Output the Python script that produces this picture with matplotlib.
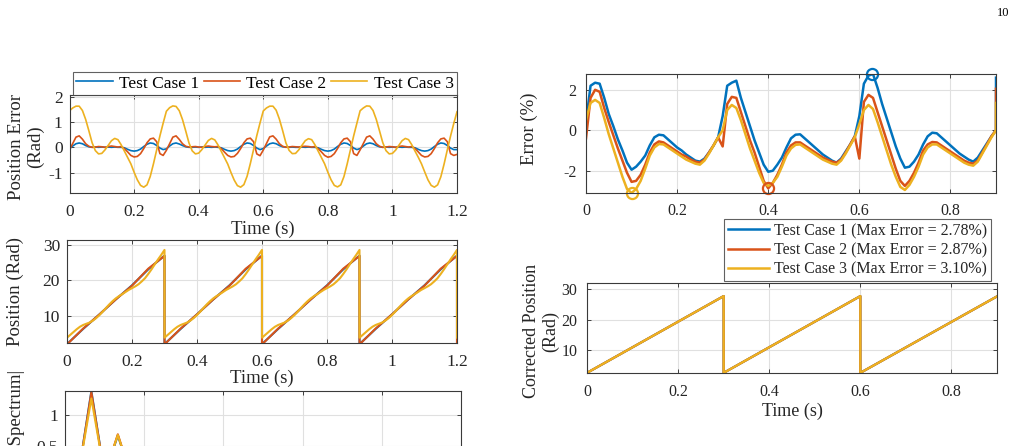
import matplotlib
matplotlib.use('Agg')
import matplotlib.pyplot as plt
import numpy as np

plt.rcParams['font.family'] = ['Liberation Serif', 'DejaVu Serif']
plt.rcParams['axes.unicode_minus'] = False

# ---------------- data ----------------
labels = ['Test Case 1', 'Test Case 2', 'Test Case 3']
labels_max = ['Test Case 1 (Max Error = 2.78%)',
              'Test Case 2 (Max Error = 2.87%)',
              'Test Case 3 (Max Error = 3.10%)']

# Position error (Rad), sampled every 0.01 s from 0 to 1.2 s
t_err = np.linspace(0, 1.2, 121)
err_case1 = [
    -0.05, 0.05, 0.14, 0.17, 0.14, 0.07, 0.02, 0.00, 0.01, 0.00, 0.01, 0.00, 0.01, 0.00, 0.01,
    0.00, 0.00, -0.02, -0.08, -0.13, -0.15, -0.13, -0.07, 0.03, 0.12, 0.17, 0.15, 0.07, -0.03, -0.09,
    -0.06, 0.05, 0.14, 0.17, 0.13, 0.07, 0.02, 0.00, 0.00, 0.01, 0.00, 0.01, 0.00, 0.01, 0.00,
    0.01, 0.00, -0.02, -0.08, -0.13, -0.15, -0.13, -0.07, 0.03, 0.12, 0.17, 0.15, 0.07, -0.03, -0.09,
    -0.05, 0.05, 0.14, 0.17, 0.14, 0.07, 0.02, 0.01, 0.00, 0.01, 0.00, 0.00, 0.01, 0.00, 0.01,
    0.00, 0.00, -0.02, -0.08, -0.13, -0.15, -0.13, -0.07, 0.03, 0.12, 0.17, 0.15, 0.07, -0.03, -0.09,
    -0.05, 0.05, 0.14, 0.17, 0.14, 0.07, 0.02, 0.00, 0.01, 0.00, 0.01, 0.00, 0.01, 0.00, 0.01,
    0.00, 0.00, -0.02, -0.08, -0.13, -0.15, -0.13, -0.07, 0.03, 0.12, 0.17, 0.15, 0.07, -0.03, -0.09,
    -0.09]
err_case2 = [
    -0.10, 0.15, 0.40, 0.45, 0.32, 0.14, 0.04, 0.00, 0.01, 0.03, 0.02, 0.00, 0.03, 0.05, 0.03,
    0.01, 0.03, -0.05, -0.18, -0.32, -0.38, -0.36, -0.25, -0.05, 0.18, 0.33, 0.36, 0.22, -0.25, -0.32,
    -0.12, 0.14, 0.40, 0.45, 0.31, 0.14, 0.04, 0.01, 0.02, 0.03, 0.01, 0.00, 0.03, 0.05, 0.03,
    0.02, 0.03, -0.05, -0.19, -0.32, -0.38, -0.36, -0.24, -0.05, 0.18, 0.33, 0.36, 0.22, -0.26, -0.33,
    -0.11, 0.15, 0.41, 0.45, 0.32, 0.14, 0.04, 0.00, 0.01, 0.03, 0.02, 0.01, 0.03, 0.04, 0.03,
    0.01, 0.03, -0.05, -0.18, -0.32, -0.39, -0.36, -0.25, -0.05, 0.18, 0.33, 0.36, 0.22, -0.25, -0.32,
    -0.10, 0.15, 0.40, 0.45, 0.32, 0.14, 0.04, 0.00, 0.01, 0.03, 0.02, 0.00, 0.03, 0.05, 0.03,
    0.01, 0.03, -0.05, -0.18, -0.32, -0.38, -0.36, -0.25, -0.05, 0.18, 0.33, 0.36, 0.22, -0.25, -0.32,
    -0.28]
err_case3 = [
    1.44, 1.55, 1.62, 1.62, 1.45, 1.10, 0.65, 0.18, -0.13, -0.26, -0.24, -0.10, 0.08, 0.26, 0.35,
    0.30, 0.10, -0.15, -0.40, -0.65, -0.98, -1.28, -1.50, -1.57, -1.48, -1.15, -0.65, -0.10, 0.45, 0.95,
    1.42, 1.56, 1.63, 1.61, 1.44, 1.09, 0.64, 0.17, -0.14, -0.26, -0.23, -0.09, 0.09, 0.27, 0.35,
    0.29, 0.09, -0.16, -0.41, -0.66, -0.99, -1.29, -1.51, -1.57, -1.47, -1.14, -0.64, -0.09, 0.46, 0.96,
    1.43, 1.55, 1.62, 1.62, 1.46, 1.11, 0.66, 0.18, -0.12, -0.25, -0.24, -0.10, 0.08, 0.26, 0.34,
    0.30, 0.10, -0.15, -0.40, -0.65, -0.98, -1.28, -1.50, -1.56, -1.48, -1.15, -0.65, -0.10, 0.45, 0.95,
    1.44, 1.55, 1.63, 1.62, 1.45, 1.10, 0.65, 0.19, -0.13, -0.26, -0.24, -0.11, 0.08, 0.26, 0.35,
    0.30, 0.10, -0.15, -0.39, -0.65, -0.97, -1.28, -1.50, -1.57, -1.48, -1.16, -0.66, -0.10, 0.44, 0.94,
    1.40]

# Position (Rad)
t_pos_12 = [0.00, 0.05, 0.10, 0.15, 0.20, 0.25, 0.30,
            0.30, 0.35, 0.40, 0.45, 0.50, 0.55, 0.60,
            0.60, 0.65, 0.70, 0.75, 0.80, 0.85, 0.90,
            0.90, 0.95, 1.00, 1.05, 1.10, 1.15, 1.20, 1.20]
pos_case1 = [2.0, 6.3, 10.4, 14.6, 18.6, 23.1, 27.0,
             2.0, 6.3, 10.4, 14.6, 18.6, 23.1, 27.0,
             2.0, 6.3, 10.4, 14.6, 18.6, 23.1, 27.0,
             2.0, 6.3, 10.4, 14.6, 18.6, 23.1, 27.0, 2.0]
pos_case2 = [1.9, 6.4, 10.4, 14.6, 18.5, 23.3, 26.9,
             1.9, 6.4, 10.4, 14.6, 18.5, 23.3, 26.9,
             1.9, 6.4, 10.4, 14.6, 18.5, 23.3, 26.9,
             1.9, 6.4, 10.4, 14.6, 18.5, 23.3, 26.9, 1.9]
t_pos_3 = np.concatenate([np.linspace(0.0, 0.3, 31), np.linspace(0.3, 0.6, 31),
                          np.linspace(0.6, 0.9, 31), np.linspace(0.9, 1.2, 31), [1.2]])
pos_case3 = [
    3.8, 4.6, 5.4, 6.2, 6.9, 7.4, 7.75, 8.1, 8.65, 9.35, 10.2, 11.15, 12.2, 13.2, 14.1, 14.9,
    15.55, 16.1, 16.7, 17.3, 17.8, 18.3, 18.9, 19.7, 20.6, 21.8, 23.1, 24.5, 25.9, 27.2, 28.6,
    3.8, 4.6, 5.4, 6.2, 6.9, 7.4, 7.75, 8.1, 8.65, 9.35, 10.2, 11.15, 12.2, 13.2, 14.1, 14.9,
    15.55, 16.1, 16.7, 17.3, 17.8, 18.3, 18.9, 19.7, 20.6, 21.8, 23.1, 24.5, 25.9, 27.2, 28.6,
    3.8, 4.6, 5.4, 6.2, 6.9, 7.4, 7.75, 8.1, 8.65, 9.35, 10.2, 11.15, 12.2, 13.2, 14.1, 14.9,
    15.55, 16.1, 16.7, 17.3, 17.8, 18.3, 18.9, 19.7, 20.6, 21.8, 23.1, 24.5, 25.9, 27.2, 28.6,
    3.8, 4.6, 5.4, 6.2, 6.9, 7.4, 7.75, 8.1, 8.65, 9.35, 10.2, 11.15, 12.2, 13.2, 14.1, 14.9,
    15.55, 16.1, 16.7, 17.3, 17.8, 18.3, 18.9, 19.7, 20.6, 21.8, 23.1, 24.5, 25.9, 27.2, 28.6,
    3.8]

# |Spectrum| (Hz)
freq = [0.0, 1.67, 3.33, 5.0, 6.67, 8.33, 10.0, 11.67, 13.33, 15.0, 16.67, 18.33, 20.0, 21.67,
        23.33, 25.0, 26.67, 28.33, 30.0, 31.67, 33.33, 35.0, 36.67, 38.33, 40.0, 41.67, 43.33,
        45.0, 46.67, 48.33, 50.0]
spec_case1 = [0.03, 0.02, 1.39, 0.03, 0.67, 0.02, 0.05, 0.01, 0.02, 0.01, 0.01, 0.01, 0.01, 0.0,
              0.01, 0.0, 0.0, 0.0, 0.0, 0.0, 0.0, 0.0, 0.0, 0.0, 0.0, 0.0, 0.0, 0.0, 0.0, 0.0, 0.0]
spec_case2 = [0.03, 0.02, 1.37, 0.03, 0.69, 0.02, 0.06, 0.01, 0.02, 0.01, 0.01, 0.01, 0.01, 0.0,
              0.01, 0.0, 0.0, 0.0, 0.0, 0.0, 0.0, 0.0, 0.0, 0.0, 0.0, 0.0, 0.0, 0.0, 0.0, 0.0, 0.0]
spec_case3 = [0.05, 0.03, 1.27, 0.04, 0.68, 0.03, 0.07, 0.02, 0.02, 0.01, 0.01, 0.01, 0.01, 0.01,
              0.01, 0.0, 0.0, 0.0, 0.0, 0.0, 0.0, 0.0, 0.0, 0.0, 0.0, 0.0, 0.0, 0.0, 0.0, 0.0, 0.0]

# Error (%), sampled every 0.01 s from 0 to 0.9 s, plus the final jump at 0.9 s
t_pct = np.append(np.linspace(0, 0.9, 91), 0.9)
pct_case1 = [
    0.4, 2.2, 2.35, 2.3, 1.6, 0.8, 0.2, -0.45, -1.0, -1.6, -1.95, -1.8, -1.55, -1.25, -0.75,
    -0.35, -0.22, -0.25, -0.45, -0.65, -0.85, -1.0, -1.2, -1.35, -1.5, -1.55, -1.4, -1.1, -0.75, -0.35,
    0.7, 2.2, 2.35, 2.45, 1.6, 0.9, 0.2, -0.5, -1.1, -1.7, -2.05, -2.0, -1.7, -1.35, -0.85,
    -0.4, -0.22, -0.2, -0.4, -0.6, -0.8, -1.0, -1.2, -1.35, -1.5, -1.6, -1.4, -1.05, -0.7, -0.3,
    0.7, 2.3, 2.7, 2.78, 2.1, 1.3, 0.6, -0.1, -0.8, -1.4, -1.85, -1.8, -1.55, -1.2, -0.7,
    -0.3, -0.12, -0.15, -0.35, -0.55, -0.75, -0.95, -1.15, -1.3, -1.45, -1.55, -1.35, -1.0, -0.65, -0.3,
    0.0, 2.6]
pct_case2 = [
    -0.4, 1.6, 2.0, 1.9, 1.1, 0.4, -0.25, -0.9, -1.5, -2.1, -2.55, -2.5, -2.2, -1.7, -1.1,
    -0.7, -0.55, -0.6, -0.75, -0.9, -1.05, -1.2, -1.3, -1.45, -1.55, -1.6, -1.45, -1.1, -0.75, -0.35,
    -0.8, 1.3, 1.65, 1.6, 0.9, 0.2, -0.5, -1.1, -1.8, -2.5, -2.87, -2.6, -2.2, -1.7, -1.1,
    -0.75, -0.6, -0.6, -0.75, -0.9, -1.05, -1.2, -1.35, -1.45, -1.55, -1.6, -1.45, -1.1, -0.7, -0.3,
    -1.4, 1.4, 1.75, 1.6, 0.9, 0.2, -0.5, -1.2, -1.9, -2.5, -2.75, -2.5, -2.1, -1.6, -1.0,
    -0.7, -0.58, -0.6, -0.75, -0.9, -1.05, -1.2, -1.35, -1.5, -1.6, -1.65, -1.5, -1.1, -0.7, -0.3,
    0.0, 2.05]
pct_case3 = [
    0.5, 1.35, 1.5, 1.35, 0.6, -0.2, -0.9, -1.6, -2.3, -2.9, -3.10, -2.9, -2.5, -1.9, -1.25,
    -0.85, -0.68, -0.7, -0.85, -1.0, -1.15, -1.3, -1.45, -1.55, -1.65, -1.7, -1.5, -1.15, -0.75, -0.35,
    0.0, 1.0, 1.25, 1.1, 0.5, -0.2, -0.9, -1.5, -2.1, -2.6, -2.75, -2.6, -2.3, -1.8, -1.25,
    -0.9, -0.72, -0.7, -0.85, -1.0, -1.15, -1.3, -1.45, -1.55, -1.65, -1.7, -1.5, -1.15, -0.75, -0.35,
    0.3, 1.0, 1.25, 1.05, 0.4, -0.3, -1.0, -1.7, -2.3, -2.8, -2.95, -2.7, -2.3, -1.8, -1.2,
    -0.85, -0.7, -0.7, -0.85, -1.0, -1.15, -1.3, -1.45, -1.6, -1.7, -1.75, -1.55, -1.15, -0.75, -0.35,
    0.0, 1.35]
max_t = [0.628, 0.40, 0.10]
max_v = [2.78, -2.87, -3.10]

# Corrected position (Rad)
t_cor = [0.0, 0.3, 0.3, 0.6, 0.6, 0.9]
cor_case1 = [2.5, 27.7, 2.5, 27.7, 2.5, 27.6]
cor_case2 = [2.5, 27.7, 2.5, 27.7, 2.5, 27.6]
cor_case3 = [2.5, 27.7, 2.5, 27.7, 2.5, 27.6]

xt_left = [0, 0.2, 0.4, 0.6, 0.8, 1.0, 1.2]
xt_left_lbl = ['0', '0.2', '0.4', '0.6', '0.8', '1', '1.2']
xt_right = [0, 0.2, 0.4, 0.6, 0.8]
xt_right_lbl = ['0', '0.2', '0.4', '0.6', '0.8']

# ---------------- style ----------------
COL = ['#0072BD', '#D95319', '#EDB120']
TXT = '#262626'
W, H = 1017, 446

fig = plt.figure(figsize=(W / 100, H / 100), dpi=100)


def box(l, t, r, b):
    return [l / W, 1 - b / H, (r - l) / W, (b - t) / H]


def style(ax, fs):
    ax.grid(True, color='#e0e0e0', lw=0.8)
    ax.set_axisbelow(True)
    ax.tick_params(direction='in', length=3, width=0.6, top=True, right=True,
                   labelsize=fs, colors=TXT)
    for s in ax.spines.values():
        s.set_color('#3a3a3a')
        s.set_linewidth(0.8)


# --- top-left: position error
ax1 = fig.add_axes(box(69.5, 95, 457, 193))
h1 = []
for y, c in zip([err_case1, err_case2, err_case3], COL):
    h1 += ax1.plot(t_err, y, color=c, lw=1.2)
ax1.set_xlim(0, 1.2)
ax1.set_ylim(-1.8, 2.06)
ax1.set_yticks([-1, 0, 1, 2])
ax1.set_xticks(xt_left, xt_left_lbl)
style(ax1, 12.5)
ax1.tick_params(axis='x', pad=8)
ax1.tick_params(axis='y', pad=5)
fig.legend(h1, labels, ncol=3, loc='lower left', mode='expand',
           bbox_to_anchor=(73 / W, 1 - 95 / H, 384 / W, 25 / H),
           fontsize=12.5, frameon=True, fancybox=False, edgecolor='#3a3a3a',
           borderpad=0.2, handlelength=2.1, handletextpad=0.35, columnspacing=0.8,
           borderaxespad=0).get_frame().set_linewidth(0.8)
fig.text(263 / W, 1 - 229 / H, 'Time (s)', fontsize=13.5, ha='center', va='center', color=TXT)
fig.text(26 / W, 1 - 147 / H, 'Position Error\n(Rad)', fontsize=13.5, ha='center', va='center',
         rotation=90, color=TXT, linespacing=1.1)

# --- middle-left: position
ax2 = fig.add_axes(box(67, 240, 457, 343))
ax2.plot(t_pos_12, pos_case1, color=COL[0], lw=1.5)
ax2.plot(t_pos_12, pos_case2, color=COL[1], lw=1.5)
ax2.plot(t_pos_3, pos_case3, color=COL[2], lw=1.5)
ax2.set_xlim(0, 1.2)
ax2.set_ylim(2.3, 31.4)
ax2.set_yticks([10, 20, 30])
ax2.set_xticks(xt_left, xt_left_lbl)
style(ax2, 12.5)
ax2.tick_params(axis='x', pad=8)
ax2.tick_params(axis='y', pad=5)
fig.text(262 / W, 1 - 378 / H, 'Time (s)', fontsize=13.5, ha='center', va='center', color=TXT)
fig.text(15 / W, 1 - 292 / H, 'Position (Rad)', fontsize=13.5, ha='center', va='center',
         rotation=90, color=TXT)

# --- bottom-left: spectrum (cut by page edge)
ax3 = fig.add_axes(box(65, 391, 461, 477))
ax3.plot(freq, spec_case1, color=COL[0], lw=1.5)
ax3.plot(freq, spec_case2, color=COL[1], lw=1.5)
ax3.plot(freq, spec_case3, color=COL[2], lw=1.5)
ax3.set_xlim(0, 50)
ax3.set_ylim(0, 1.39)
ax3.set_xticks([0, 10, 20, 30, 40, 50])
ax3.set_yticks([0.5, 1])
ax3.set_yticklabels(['0.5', '1'])
style(ax3, 12.5)
ax3.tick_params(axis='x', labelbottom=False)
ax3.tick_params(axis='y', pad=5)
fig.text(15 / W, 1 - 407 / H, '|Spectrum|', fontsize=13.5, ha='center', va='center',
         rotation=90, color=TXT)

# --- top-right: error (%)
ax4 = fig.add_axes(box(586, 74, 996, 193))
h4 = []
for y, c in zip([pct_case1, pct_case2, pct_case3], COL):
    h4 += ax4.plot(t_pct, y, color=c, lw=1.8)
for tx, vy, c in zip(max_t, max_v, COL):
    ax4.plot([tx], [vy], 'o', mfc='none', mec=c, ms=8, mew=1.6, clip_on=False)
ax4.set_xlim(0, 0.9)
ax4.set_ylim(-3.10, 2.78)
ax4.set_yticks([-2, 0, 2])
ax4.set_xticks(xt_right, xt_right_lbl)
style(ax4, 11.5)
ax4.tick_params(axis='x', pad=7)
ax4.tick_params(axis='y', pad=7)
leg = fig.legend(h4, labels_max, loc='upper right', bbox_to_anchor=(991 / W, 1 - 219 / H),
                 fontsize=11.5, frameon=True, fancybox=False, edgecolor='#3a3a3a',
                 borderpad=0.25, labelspacing=0.2, handlelength=2.6, handletextpad=0.3,
                 borderaxespad=0)
leg.get_frame().set_linewidth(0.8)
for tx in leg.get_texts():
    tx.set_color(TXT)
fig.text(529 / W, 1 - 129 / H, 'Error (%)', fontsize=13.5, ha='center', va='center',
         rotation=90, color=TXT)

# --- bottom-right: corrected position
ax5 = fig.add_axes(box(587, 283, 997, 373))
ax5.plot(t_cor, cor_case1, color=COL[0], lw=1.6)
ax5.plot(t_cor, cor_case2, color=COL[1], lw=1.6)
ax5.plot(t_cor, cor_case3, color=COL[2], lw=1.6)
ax5.set_xlim(0, 0.9)
ax5.set_ylim(2.45, 32)
ax5.set_yticks([10, 20, 30])
ax5.set_xticks(xt_right, xt_right_lbl)
style(ax5, 11.5)
ax5.tick_params(axis='x', pad=8)
ax5.tick_params(axis='y', pad=7)
fig.text(792 / W, 1 - 411 / H, 'Time (s)', fontsize=13, ha='center', va='center', color=TXT)
fig.text(541 / W, 1 - 331 / H, 'Corrected Position\n(Rad)', fontsize=13, ha='center',
         va='center', rotation=90, color=TXT, linespacing=1.1)

# page number
fig.text(1003 / W, 1 - 13 / H, '10', fontsize=9, ha='center', va='center', color='black')

fig.savefig('out.png', dpi=100)
